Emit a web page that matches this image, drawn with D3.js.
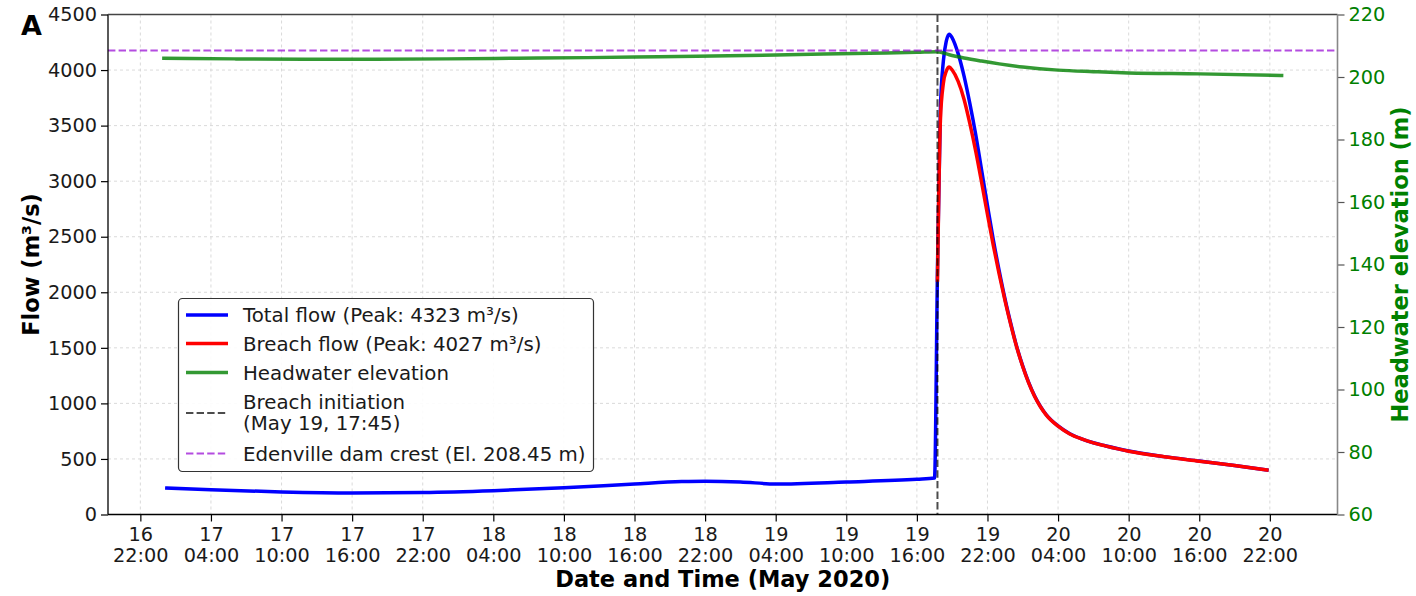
<!DOCTYPE html>
<html>
<head>
<meta charset="utf-8">
<script src="https://cdn.jsdelivr.net/npm/d3@7"></script>
<style>
  body { margin: 0; background: #fff; }
  svg { display: block; font-family: "DejaVu Sans", sans-serif; }
</style>
</head>
<body>
<svg id="chart" width="1416" height="596"></svg>
<script>
// Edenville dam breach hydrograph: flows on the left axis, reservoir level on the right
var parseTime = d3.timeParse("%Y-%m-%d %H:%M");

var totalTimes = [
  "2020-05-17 00:15", "2020-05-17 04:00", "2020-05-17 10:00", "2020-05-17 16:00",
  "2020-05-17 22:00", "2020-05-18 04:00", "2020-05-18 10:00", "2020-05-18 16:00",
  "2020-05-18 20:00", "2020-05-18 22:00", "2020-05-19 01:00", "2020-05-19 04:00",
  "2020-05-19 10:00", "2020-05-19 16:00", "2020-05-19 17:30", "2020-05-19 17:45",
  "2020-05-19 18:00", "2020-05-19 18:15", "2020-05-19 18:30", "2020-05-19 18:45",
  "2020-05-19 19:00", "2020-05-19 19:30", "2020-05-19 20:00", "2020-05-19 20:30",
  "2020-05-19 21:00", "2020-05-19 21:30", "2020-05-19 22:00", "2020-05-19 22:30",
  "2020-05-19 23:00", "2020-05-19 23:30", "2020-05-20 00:00", "2020-05-20 00:30",
  "2020-05-20 01:00", "2020-05-20 01:30", "2020-05-20 02:00", "2020-05-20 02:30",
  "2020-05-20 03:00", "2020-05-20 04:00", "2020-05-20 05:00", "2020-05-20 06:00",
  "2020-05-20 07:00", "2020-05-20 08:00", "2020-05-20 10:00", "2020-05-20 13:00",
  "2020-05-20 16:00", "2020-05-20 19:00", "2020-05-20 21:45"
];
var totalFlow = [
  238, 222, 203, 194,
  198, 214, 240, 275,
  296, 300, 293, 275,
  293, 317, 328, 2200,
  3650, 4080, 4260, 4323,
  4290, 4150, 3950, 3700,
  3420, 3100, 2780, 2470,
  2190, 1935, 1710, 1505,
  1335, 1189, 1069, 973,
  898, 797, 727, 681,
  646, 619, 571, 521,
  481, 441, 401
];

var breachTimes = [
  "2020-05-19 17:45", "2020-05-19 18:00", "2020-05-19 18:15", "2020-05-19 18:30",
  "2020-05-19 18:45", "2020-05-19 19:00", "2020-05-19 19:30", "2020-05-19 20:00",
  "2020-05-19 20:30", "2020-05-19 21:00", "2020-05-19 21:30", "2020-05-19 22:00",
  "2020-05-19 22:30", "2020-05-19 23:00", "2020-05-19 23:30", "2020-05-20 00:00",
  "2020-05-20 00:30", "2020-05-20 01:00", "2020-05-20 01:30", "2020-05-20 02:00",
  "2020-05-20 02:30", "2020-05-20 03:00", "2020-05-20 04:00", "2020-05-20 05:00",
  "2020-05-20 06:00", "2020-05-20 07:00", "2020-05-20 08:00", "2020-05-20 10:00",
  "2020-05-20 13:00", "2020-05-20 16:00", "2020-05-20 19:00", "2020-05-20 21:45"
];
var breachFlow = [
  2110, 3550, 3880, 3990,
  4027, 4000, 3900, 3740,
  3520, 3270, 2990, 2700,
  2420, 2160, 1920, 1700,
  1500, 1330, 1185, 1065,
  970, 895, 795, 725,
  680, 645, 618, 570,
  520, 480, 440, 400
];

var headTimes = [
  "2020-05-17 00:00", "2020-05-17 06:00", "2020-05-17 12:00", "2020-05-17 18:00",
  "2020-05-18 00:00", "2020-05-18 06:00", "2020-05-18 12:00", "2020-05-18 18:00",
  "2020-05-19 00:00", "2020-05-19 06:00", "2020-05-19 12:00", "2020-05-19 16:00",
  "2020-05-19 17:45", "2020-05-19 18:45", "2020-05-19 20:00", "2020-05-19 21:30",
  "2020-05-19 23:00", "2020-05-20 01:00", "2020-05-20 04:00", "2020-05-20 07:00",
  "2020-05-20 10:00", "2020-05-20 16:00", "2020-05-20 23:00"
];
var headElev = [
  206.0, 205.8, 205.7, 205.7,
  205.8, 206.0, 206.2, 206.5,
  206.8, 207.2, 207.6, 207.9,
  208.1, 207.1, 206.1, 205.1,
  204.2, 203.2, 202.2, 201.7,
  201.3, 201.0, 200.5
];

var breachTime = "2020-05-19 17:45";
var damCrest = 208.45;

var xTicks = [
  "2020-05-16 22:00", "2020-05-17 04:00", "2020-05-17 10:00", "2020-05-17 16:00",
  "2020-05-17 22:00", "2020-05-18 04:00", "2020-05-18 10:00", "2020-05-18 16:00",
  "2020-05-18 22:00", "2020-05-19 04:00", "2020-05-19 10:00", "2020-05-19 16:00",
  "2020-05-19 22:00", "2020-05-20 04:00", "2020-05-20 10:00", "2020-05-20 16:00",
  "2020-05-20 22:00"
];
var flowTicks = [0, 500, 1000, 1500, 2000, 2500, 3000, 3500, 4000, 4500];
var elevTicks = [60, 80, 100, 120, 140, 160, 180, 200, 220];

var W = 1416, H = 596;
var margin = {top: 14.5, right: 78.5, bottom: 81.5, left: 108};
var x0 = margin.left, x1 = W - margin.right;
var y0 = H - margin.bottom, y1 = margin.top;
var FONT = "'DejaVu Sans', sans-serif";

var svg = d3.select("#chart");

var x = d3.scaleTime()
  .domain([parseTime("2020-05-16 19:15"), parseTime("2020-05-21 03:45")])
  .range([x0, x1]);
var yFlow = d3.scaleLinear().domain([0, 4500]).range([y0, y1]);
var yElev = d3.scaleLinear().domain([60, 220]).range([y0, y1]);

var tickDates = xTicks.map(parseTime);

// faint dashed grid
var grid = svg.append("g");
grid.selectAll(".gx").data(tickDates).enter().append("line")
  .attr("x1", function(d) { return x(d); }).attr("x2", function(d) { return x(d); })
  .attr("y1", y1).attr("y2", y0)
  .style("stroke", "#d0d0d0").style("stroke-width", 0.8).style("stroke-dasharray", "3,3");
grid.selectAll(".gy").data(flowTicks).enter().append("line")
  .attr("x1", x0).attr("x2", x1)
  .attr("y1", function(d) { return yFlow(d); }).attr("y2", function(d) { return yFlow(d); })
  .style("stroke", "#d0d0d0").style("stroke-width", 0.8).style("stroke-dasharray", "3,3");

function series(times, vals) {
  return times.map(function(t, i) { return {t: parseTime(t), v: vals[i]}; });
}

var flowLine = d3.line().curve(d3.curveMonotoneX)
  .x(function(d) { return x(d.t); }).y(function(d) { return yFlow(d.v); });
var elevLine = d3.line().curve(d3.curveMonotoneX)
  .x(function(d) { return x(d.t); }).y(function(d) { return yElev(d.v); });

var plot = svg.append("g");

plot.append("path").datum(series(totalTimes, totalFlow))
  .attr("d", flowLine)
  .style("fill", "none").style("stroke", "#0000ff").style("stroke-width", 3.5)
  .style("stroke-linejoin", "round").style("stroke-linecap", "square");

plot.append("path").datum(series(breachTimes, breachFlow))
  .attr("d", flowLine)
  .style("fill", "none").style("stroke", "#ff0000").style("stroke-width", 3.5)
  .style("stroke-linejoin", "round").style("stroke-linecap", "square");

var bx = x(parseTime(breachTime));
plot.append("line")
  .attr("x1", bx).attr("x2", bx).attr("y1", y1).attr("y2", y0)
  .style("stroke", "#000").style("stroke-opacity", 0.7).style("stroke-width", 2)
  .style("stroke-dasharray", "7.4,3.2");

plot.append("path").datum(series(headTimes, headElev))
  .attr("d", elevLine)
  .style("fill", "none").style("stroke", "#008000").style("stroke-opacity", 0.8)
  .style("stroke-width", 3.5).style("stroke-linejoin", "round").style("stroke-linecap", "square");

plot.append("line")
  .attr("x1", x0).attr("x2", x1)
  .attr("y1", yElev(damCrest)).attr("y2", yElev(damCrest))
  .style("stroke", "#9400d3").style("stroke-opacity", 0.7).style("stroke-width", 2)
  .style("stroke-dasharray", "7.4,3.2");

// axes
var fmtDay = d3.timeFormat("%d"), fmtHour = d3.timeFormat("%H:%M");

var xAxis = svg.append("g").attr("transform", "translate(0," + y0 + ")")
  .call(d3.axisBottom(x).tickValues(tickDates).tickSize(7).tickFormat(""));
xAxis.attr("font-family", FONT);
xAxis.select(".domain").remove();
xAxis.selectAll(".tick line").style("stroke", "#000").style("stroke-width", 1.2);
xAxis.selectAll(".tick").each(function(d) {
  var t = d3.select(this).append("text")
    .attr("fill", "#1a1a1a").style("font-size", "19.3px").attr("text-anchor", "middle");
  t.append("tspan").attr("x", 0).attr("y", 26).text(fmtDay(d));
  t.append("tspan").attr("x", 0).attr("y", 47.5).text(fmtHour(d));
});

var yAxisL = svg.append("g").attr("transform", "translate(" + x0 + ",0)")
  .call(d3.axisLeft(yFlow).tickValues(flowTicks).tickSize(7).tickPadding(4).tickFormat(d3.format("d")));
yAxisL.attr("font-family", FONT);
yAxisL.select(".domain").remove();
yAxisL.selectAll(".tick line").style("stroke", "#000").style("stroke-width", 1.2);
yAxisL.selectAll(".tick text").style("font-size", "19.3px").attr("fill", "#1a1a1a");

var yAxisR = svg.append("g").attr("transform", "translate(" + x1 + ",0)")
  .call(d3.axisRight(yElev).tickValues(elevTicks).tickSize(7).tickPadding(4).tickFormat(d3.format("d")));
yAxisR.attr("font-family", FONT);
yAxisR.select(".domain").remove();
yAxisR.selectAll(".tick line").style("stroke", "#555").style("stroke-width", 1.2);
yAxisR.selectAll(".tick text").style("font-size", "19.3px").attr("fill", "#008000");

// frame
svg.append("line").attr("x1", x0).attr("x2", x0).attr("y1", y1).attr("y2", y0)
  .style("stroke", "#000").style("stroke-width", 1.3);
svg.append("line").attr("x1", x0).attr("x2", x1).attr("y1", y0).attr("y2", y0)
  .style("stroke", "#000").style("stroke-width", 1.3);
svg.append("line").attr("x1", x0).attr("x2", x1).attr("y1", y1).attr("y2", y1)
  .style("stroke", "#444").style("stroke-width", 1.3);
svg.append("line").attr("x1", x1).attr("x2", x1).attr("y1", y1).attr("y2", y0)
  .style("stroke", "#888").style("stroke-width", 1.6);

// titles
svg.append("text").attr("x", (x0 + x1) / 2).attr("y", 587)
  .attr("text-anchor", "middle").style("font-size", "22.5px").style("font-weight", "bold")
  .text("Date and Time (May 2020)");
svg.append("text")
  .attr("transform", "translate(39," + ((y0 + y1) / 2) + ") rotate(-90)")
  .attr("text-anchor", "middle").style("font-size", "22.5px").style("font-weight", "bold")
  .text("Flow (m³/s)");
svg.append("text")
  .attr("transform", "translate(1408," + ((y0 + y1) / 2) + ") rotate(-90)")
  .attr("text-anchor", "middle").style("font-size", "22.5px").style("font-weight", "bold")
  .attr("fill", "#008000")
  .text("Headwater elevation (m)");
svg.append("text").attr("x", 21).attr("y", 35)
  .style("font-size", "27px").style("font-weight", "bold").text("A");

// legend
var legendItems = [
  {label: ["Total flow (Peak: " + d3.max(totalFlow) + " m³/s)"], color: "#0000ff", dash: null, op: 1, w: 3.5, row: 315},
  {label: ["Breach flow (Peak: " + d3.max(breachFlow) + " m³/s)"], color: "#ff0000", dash: null, op: 1, w: 3.5, row: 343.5},
  {label: ["Headwater elevation"], color: "#008000", dash: null, op: 0.8, w: 3.5, row: 372.5},
  {label: ["Breach initiation", "(May 19, 17:45)"], color: "#000", dash: "7.4,3.2", op: 0.7, w: 2, row: 413},
  {label: ["Edenville dam crest (El. " + damCrest + " m)"], color: "#9400d3", dash: "7.4,3.2", op: 0.7, w: 2, row: 453.5}
];

var legend = svg.append("g");
legend.append("rect")
  .attr("x", 178.5).attr("y", 298.5).attr("width", 415).attr("height", 173).attr("rx", 4)
  .style("fill", "#fff").style("fill-opacity", 0.9).style("stroke", "#333").style("stroke-width", 1.2);

legendItems.forEach(function(it) {
  legend.append("line")
    .attr("x1", 186).attr("x2", 228).attr("y1", it.row).attr("y2", it.row)
    .style("stroke", it.color).style("stroke-width", it.w).style("stroke-opacity", it.op)
    .style("stroke-dasharray", it.dash);
  var t = legend.append("text").attr("fill", "#1a1a1a").style("font-size", "19.8px");
  var first = it.label.length === 1 ? it.row + 7 : it.row - 4.5;
  it.label.forEach(function(s, i) {
    t.append("tspan").attr("x", 243).attr("y", first + i * 21.5).text(s);
  });
});
</script>
</body>
</html>
